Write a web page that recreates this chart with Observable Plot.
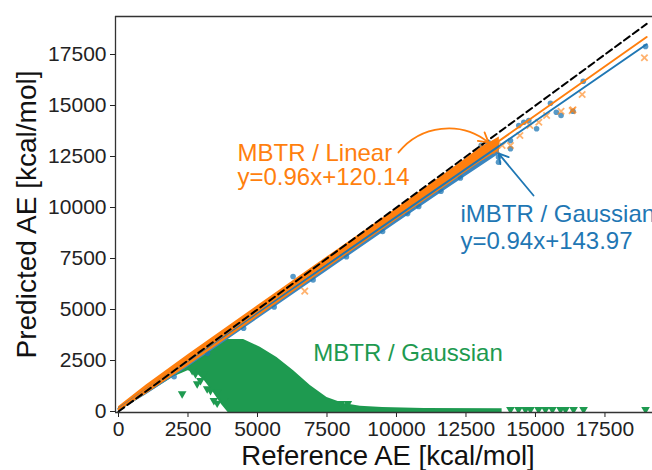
<!DOCTYPE html>
<html><head><meta charset="utf-8">
<script src="https://cdn.jsdelivr.net/npm/d3@7"></script>
<script src="https://cdn.jsdelivr.net/npm/@observablehq/plot@0.6"></script>
<style>html,body{margin:0;padding:0;background:#fff;overflow:hidden}</style>
</head><body><div id="chart"></div>
<script>
// ---- data ----
const xTicks = [0, 2500, 5000, 7500, 10000, 12500, 15000, 17500];
const yTicks = [0, 2500, 5000, 7500, 10000, 12500, 15000, 17500];

// MBTR / Gaussian: dense cloud envelope
const greenX   = [0, 1000, 2000, 2500, 2800, 3100, 3400, 3700, 3950, 4500, 5100, 5700, 6300, 6900, 7500, 8100, 8700, 9500, 11000, 13800];
const greenTop = [0, 980, 1960, 2450, 2750, 3050, 3330, 3480, 3530, 3530, 3150, 2650, 2000, 1270, 690, 390, 260, 190, 150, 130];
const greenBot = [0, 850, 1700, 2000, 1900, 1500, 950, 350, -60, -60, -60, -60, -60, -60, -60, -60, -60, -60, -60, -60];
// MBTR / Gaussian: isolated points
const greenPtX = [2290, 2650, 2770, 2950, 3070, 2830, 3190, 3310, 3550, 3430, 3550, 3790, 8000, 8250, 14100, 14390, 14640, 14820, 15110, 15360, 15610, 15900, 16080, 16370, 16730, 18960];
const greenPtY = [870, 2010, 1850, 1520, 1850, 1360, 1110, 1030, 950, 540, 410, 540, 390, 390, 100, 100, 100, 100, 100, 100, 100, 100, 100, 100, 100, 100];

// dense bands of iMBTR / Gaussian (blue) and MBTR / Linear (orange)
const bandX    = [0, 1000, 2500, 5000, 7500, 10000, 12000, 13000, 13700];
const blueLo   = [0, 820, 2170, 4520, 6880, 9230, 11080, 11980, 12620];
const blueHi   = [200, 1250, 2700, 5050, 7400, 9780, 11700, 12650, 13250];
const orangeLo = [0, 860, 2230, 4620, 7000, 9380, 11250, 12200, 12800];
const orangeHi = [230, 1300, 2780, 5180, 7570, 9950, 11900, 12900, 13450];

// isolated points
const bluePtX = [2000, 3200, 4500, 5600, 7000, 8200, 9500, 10800, 11600, 12300, 6280, 10400, 12900, 13050, 13200, 13300, 13450, 13500, 13670, 13670, 14100, 14100, 14400, 14580, 14760, 15040, 15540, 15750, 15920, 16350, 16720, 18960];
const bluePtY = [1700, 2850, 4080, 5120, 6450, 7590, 8820, 10050, 10800, 11450, 6620, 9700, 12700, 13050, 12700, 13200, 12900, 13150, 12470, 12220, 13280, 12880, 14020, 14180, 14260, 13860, 15110, 14670, 14510, 14720, 16190, 17890];
const orangePtX = [6700, 13100, 13400, 13600, 13800, 14100, 14440, 14800, 15120, 15400, 15920, 16320, 16350, 16680, 18920];
const orangePtY = [5900, 12950, 13100, 12800, 13040, 13040, 13530, 14020, 14180, 14510, 14720, 14750, 14790, 15540, 17340];

// fitted lines and the identity line (end points)
const lineX = [0, 19000];
const orangeLineY = [120, 18360];
const blueLineY = [144, 18004];
const identityY = [0, 19000];

// labels
const labels = [
  {x: 4280, y: 12300, text: "MBTR / Linear", color: "#ff7f0e"},
  {x: 4280, y: 11080, text: "y=0.96x+120.14", color: "#ff7f0e"},
  {x: 12300, y: 9310, text: "iMBTR / Gaussian", color: "#1f77b4"},
  {x: 12300, y: 7990, text: "y=0.94x+143.97", color: "#1f77b4"},
  {x: 7010, y: 2500, text: "MBTR / Gaussian", color: "#1e9a50"}
];
const orangeArrow = [{x1: 10070, y1: 12700, x2: 13310, y2: 13190}];
const blueArrow = [{x1: 14930, y1: 10590, x2: 13670, y2: 12650}];

// ---- build ----
const GREEN = "#1e9a50", BLUE = "#1f77b4", ORANGE = "#ff7f0e";
const xDom = [-108, 19210], yDom = [-49, 19363];
const greenBand = greenX.map((x, i) => ({x, lo: greenBot[i], hi: greenTop[i]}));
const band = bandX.map((x, i) => ({x, blo: blueLo[i], bhi: blueHi[i], olo: orangeLo[i], ohi: orangeHi[i]}));
const greenPts = greenPtX.map((x, i) => ({x, y: greenPtY[i]}));
const bluePts = bluePtX.map((x, i) => ({x, y: bluePtY[i]}));
const orangePts = orangePtX.map((x, i) => ({x, y: orangePtY[i]}));
const lines = lineX.map((x, i) => ({x, o: orangeLineY[i], b: blueLineY[i], id: identityY[i]}));

const chart = Plot.plot({
  width: 652, height: 470,
  marginLeft: 115, marginTop: 16, marginBottom: 58, marginRight: 0,
  style: {fontFamily: "'Liberation Sans', Arial, sans-serif", fontSize: "21px", color: "#222", background: "#fff"},
  x: {domain: xDom, ticks: xTicks, tickFormat: d3.format("d"), tickSize: 5, tickPadding: 4, label: null},
  y: {domain: yDom, ticks: yTicks, tickFormat: d3.format("d"), tickSize: 5, tickPadding: 4, label: null},
  marks: [
    Plot.areaY(greenBand, {x: "x", y1: "lo", y2: "hi", fill: GREEN, clip: true}),
    Plot.dot(greenPts, {x: "x", y: "y", symbol: "triangle", rotate: 180, r: 3.2, fill: GREEN, clip: true}),
    Plot.areaY(band, {x: "x", y1: "blo", y2: "bhi", fill: "#3a86c0", clip: true}),
    Plot.dot(bluePts, {x: "x", y: "y", r: 2.8, fill: BLUE, fillOpacity: 0.75, clip: true}),
    Plot.areaY(band, {x: "x", y1: "olo", y2: "ohi", fill: ORANGE, clip: true}),
    Plot.dot(orangePts, {x: "x", y: "y", symbol: "times", r: 3, stroke: ORANGE, strokeOpacity: 0.6, strokeWidth: 1.8, clip: true}),
    Plot.line(lines, {x: "x", y: "b", stroke: BLUE, strokeWidth: 2, clip: true}),
    Plot.line(lines, {x: "x", y: "o", stroke: ORANGE, strokeWidth: 2, clip: true}),
    Plot.line(lines, {x: "x", y: "id", stroke: "#000", strokeWidth: 2, strokeDasharray: "7,4", clip: true}),
    Plot.arrow(orangeArrow, {x1: "x1", y1: "y1", x2: "x2", y2: "y2", bend: 45, stroke: ORANGE, strokeWidth: 1.8, headLength: 9}),
    Plot.arrow(blueArrow, {x1: "x1", y1: "y1", x2: "x2", y2: "y2", stroke: BLUE, strokeWidth: 1.8, headLength: 9}),
    Plot.text(labels, {x: "x", y: "y", text: "text", fill: "color", fontSize: 24, textAnchor: "start", lineAnchor: "bottom"}),
    Plot.ruleX([xDom[0]], {stroke: "#333", strokeWidth: 1.3}),
    Plot.ruleY([yDom[0], yDom[1]], {stroke: "#333", strokeWidth: 1.3}),
    Plot.text(["Reference AE [kcal/mol]"], {frameAnchor: "bottom", textAnchor: "middle", dx: 4, dy: 52, lineAnchor: "bottom", fontSize: 27.5, fill: "#111"}),
    Plot.text(["Predicted AE [kcal/mol]"], {frameAnchor: "left", textAnchor: "middle", rotate: -90, dx: -80, lineAnchor: "bottom", fontSize: 28, fill: "#111"})
  ]
});
document.getElementById("chart").appendChild(chart);
</script></body></html>
